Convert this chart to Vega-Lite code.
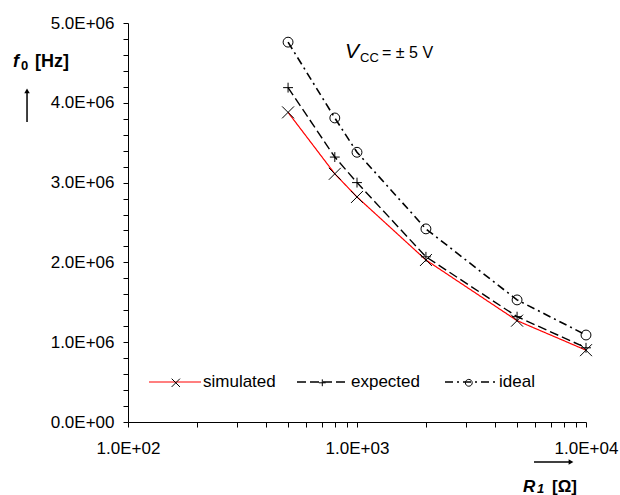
{
  "$schema": "https://vega.github.io/schema/vega-lite/v6.json",
  "width": 458,
  "height": 399,
  "autosize": {"type": "none"},
  "padding": {"left": 128, "top": 23, "right": 34, "bottom": 73},
  "config": {
    "view": {"stroke": null},
    "font": "Liberation Sans",
    "axis": {
      "labelFont": "Liberation Sans",
      "labelFontSize": 17,
      "labelColor": "black",
      "domainColor": "black",
      "domainWidth": 1,
      "tickColor": "black",
      "tickWidth": 1,
      "tickSize": 5,
      "grid": false,
      "labelOverlap": false,
      "labelFlush": false
    }
  },
  "datasets": {
    "curves": [
      {"R": 500, "f": 3880000, "series": "simulated"},
      {"R": 800, "f": 3110000, "series": "simulated"},
      {"R": 1000, "f": 2820000, "series": "simulated"},
      {"R": 2000, "f": 2030000, "series": "simulated"},
      {"R": 5000, "f": 1270000, "series": "simulated"},
      {"R": 10000, "f": 900000, "series": "simulated"},
      {"R": 500, "f": 4190000, "series": "expected"},
      {"R": 800, "f": 3320000, "series": "expected"},
      {"R": 1000, "f": 3000000, "series": "expected"},
      {"R": 2000, "f": 2070000, "series": "expected"},
      {"R": 5000, "f": 1320000, "series": "expected"},
      {"R": 10000, "f": 930000, "series": "expected"},
      {"R": 500, "f": 4760000, "series": "ideal"},
      {"R": 800, "f": 3810000, "series": "ideal"},
      {"R": 1000, "f": 3380000, "series": "ideal"},
      {"R": 2000, "f": 2420000, "series": "ideal"},
      {"R": 5000, "f": 1530000, "series": "ideal"},
      {"R": 10000, "f": 1090000, "series": "ideal"}
    ]
  },
  "layer": [
    {
      "data": {"name": "curves"},
      "mark": {"type": "line"},
      "encoding": {
        "x": {
          "field": "R", "type": "quantitative", "title": null,
          "scale": {"type": "log", "domain": [100, 10000], "nice": false},
          "axis": {
            "title": null,
            "labelOverlap": false,
            "tickCount": 100,
            "values": [100, 200, 300, 400, 500, 600, 700, 800, 900, 1000, 2000, 3000, 4000, 5000, 6000, 7000, 8000, 9000, 10000],
            "labelExpr": "(datum.value === 100 || datum.value === 1000 || datum.value === 10000) ? replace(format(datum.value, '.1e'), 'e+', 'E+0') : ''",
            "labelPadding": 13
          }
        },
        "y": {
          "field": "f", "type": "quantitative", "title": null,
          "scale": {"domain": [0, 5000000], "nice": false},
          "axis": {
            "title": null,
            "labelOverlap": false,
            "tickCount": 100,
            "values": [0, 200000, 400000, 600000, 800000, 1000000, 1200000, 1400000, 1600000, 1800000, 2000000, 2200000, 2400000, 2600000, 2800000, 3000000, 3200000, 3400000, 3600000, 3800000, 4000000, 4200000, 4400000, 4600000, 4800000, 5000000],
            "labelExpr": "datum.value % 1000000 === 0 ? replace(format(datum.value, '.1e'), 'e+', 'E+0') : ''",
            "labelPadding": 9
          }
        },
        "color": {
          "field": "series", "type": "nominal",
          "scale": {"domain": ["simulated", "expected", "ideal"], "range": ["#ff0000", "#000000", "#000000"]},
          "legend": {
            "title": null, "orient": "none", "legendX": 20, "legendY": 332, "direction": "horizontal",
            "padding": 0, "symbolType": "stroke", "symbolSize": 2704, "symbolStrokeWidth": 1.3,
            "labelFont": "Liberation Sans", "labelFontSize": 17, "labelColor": "black",
            "labelOffset": 1, "columnPadding": 17, "gridAlign": "all"
          }
        },
        "strokeDash": {
          "field": "series", "type": "nominal",
          "scale": {"domain": ["simulated", "expected", "ideal"], "range": [[1, 0], [9, 4], [8, 4, 2, 4]]},
          "legend": {
            "title": null, "orient": "none", "legendX": 20, "legendY": 332, "direction": "horizontal",
            "padding": 0, "symbolType": "stroke", "symbolSize": 2704, "symbolStrokeWidth": 1.3,
            "labelFont": "Liberation Sans", "labelFontSize": 17, "labelColor": "black",
            "labelOffset": 1, "columnPadding": 17, "gridAlign": "all"
          }
        },
        "strokeWidth": {
          "field": "series", "type": "nominal",
          "scale": {"domain": ["simulated", "expected", "ideal"], "range": [1.2, 1.6, 1.5]},
          "legend": null
        }
      }
    },
    {
      "data": {"name": "curves"},
      "mark": {"type": "point", "filled": false, "size": 2704, "color": "black", "strokeWidth": 1, "opacity": 1},
      "encoding": {
        "x": {"field": "R", "type": "quantitative"},
        "y": {"field": "f", "type": "quantitative"},
        "shape": {
          "field": "series", "type": "nominal",
          "sort": ["simulated", "expected", "ideal"],
          "scale": {"range": [
            "M-0.23,-0.23L0.23,0.23M-0.23,0.23L0.23,-0.23",
            "M-0.19,0L0.19,0M0,-0.19L0,0.19",
            "M0.19,0A0.19,0.19,0,1,1,-0.19,0A0.19,0.19,0,1,1,0.19,0Z"
          ]},
          "legend": {
            "title": null, "orient": "none", "legendX": 28.8, "legendY": 340.8, "direction": "horizontal",
            "padding": 0, "symbolSize": 1300, "symbolStrokeWidth": 1,
            "labelFont": "Liberation Sans", "labelFontSize": 17, "labelColor": "black",
            "labelExpr": "''",
            "labelOffset": 4, "columnPadding": 104.5, "gridAlign": "all"
          }
        }
      }
    },
    {
      "data": {"values": [{}]},
      "mark": {"type": "text", "text": "V", "font": "Liberation Sans", "fontSize": 21, "fontStyle": "italic", "align": "left", "baseline": "alphabetic", "color": "black"},
      "encoding": {"x": {"datum": 886.4, "type": "quantitative"}, "y": {"datum": 4561300, "type": "quantitative"}}
    },
    {
      "data": {"values": [{}]},
      "mark": {"type": "text", "text": "CC", "font": "Liberation Sans", "fontSize": 13, "align": "left", "baseline": "alphabetic", "color": "black"},
      "encoding": {"x": {"datum": 1030.6, "type": "quantitative"}, "y": {"datum": 4511300, "type": "quantitative"}}
    },
    {
      "data": {"values": [{}]},
      "mark": {"type": "text", "text": "= ± 5 V", "font": "Liberation Sans", "fontSize": 16, "align": "left", "baseline": "alphabetic", "color": "black"},
      "encoding": {"x": {"datum": 1286, "type": "quantitative"}, "y": {"datum": 4561300, "type": "quantitative"}}
    },
    {
      "data": {"values": [{}]},
      "mark": {"type": "text", "text": "f", "font": "Liberation Sans", "fontSize": 18, "fontWeight": "bold", "fontStyle": "italic", "align": "left", "baseline": "alphabetic", "color": "black"},
      "encoding": {"x": {"datum": 31.45, "type": "quantitative"}, "y": {"datum": 4448600, "type": "quantitative"}}
    },
    {
      "data": {"values": [{}]},
      "mark": {"type": "text", "text": "0", "font": "Liberation Sans", "fontSize": 13, "fontWeight": "bold", "align": "left", "baseline": "alphabetic", "color": "black"},
      "encoding": {"x": {"datum": 34.1, "type": "quantitative"}, "y": {"datum": 4417200, "type": "quantitative"}}
    },
    {
      "data": {"values": [{}]},
      "mark": {"type": "text", "text": "[Hz]", "font": "Liberation Sans", "fontSize": 18, "fontWeight": "bold", "align": "left", "baseline": "alphabetic", "color": "black"},
      "encoding": {"x": {"datum": 39.26, "type": "quantitative"}, "y": {"datum": 4448600, "type": "quantitative"}}
    },
    {
      "data": {"values": [{}]},
      "mark": {"type": "text", "text": "R", "font": "Liberation Sans", "fontSize": 17, "fontWeight": "bold", "fontStyle": "italic", "align": "left", "baseline": "alphabetic", "color": "black"},
      "encoding": {"x": {"datum": 5307, "type": "quantitative"}, "y": {"datum": -877200, "type": "quantitative"}}
    },
    {
      "data": {"values": [{}]},
      "mark": {"type": "text", "text": "1", "font": "Liberation Sans", "fontSize": 13, "fontWeight": "bold", "fontStyle": "italic", "align": "left", "baseline": "alphabetic", "color": "black"},
      "encoding": {"x": {"datum": 6109, "type": "quantitative"}, "y": {"datum": -889700, "type": "quantitative"}}
    },
    {
      "data": {"values": [{}]},
      "mark": {"type": "text", "text": "[Ω]", "font": "Liberation Sans", "fontSize": 17, "fontWeight": "bold", "align": "left", "baseline": "alphabetic", "color": "black"},
      "encoding": {"x": {"datum": 7103, "type": "quantitative"}, "y": {"datum": -877200, "type": "quantitative"}}
    },
    {
      "data": {"values": [{}]},
      "mark": {"type": "rule", "color": "black", "strokeWidth": 1.5},
      "encoding": {"x": {"datum": 36.23, "type": "quantitative"}, "y": {"datum": 3759000, "type": "quantitative"}, "y2": {"datum": 4140000}}
    },
    {
      "data": {"values": [{}]},
      "mark": {"type": "point", "shape": "triangle-up", "filled": true, "size": 30, "color": "black", "opacity": 1},
      "encoding": {"x": {"datum": 36.23, "type": "quantitative"}, "y": {"datum": 4148000, "type": "quantitative"}}
    },
    {
      "data": {"values": [{}]},
      "mark": {"type": "rule", "color": "black", "strokeWidth": 1.5},
      "encoding": {"x": {"datum": 5929, "type": "quantitative"}, "x2": {"datum": 8500}, "y": {"datum": -501300, "type": "quantitative"}}
    },
    {
      "data": {"values": [{}]},
      "mark": {"type": "point", "shape": "triangle-right", "filled": true, "size": 30, "color": "black", "opacity": 1},
      "encoding": {"x": {"datum": 8599, "type": "quantitative"}, "y": {"datum": -501300, "type": "quantitative"}}
    }
  ]
}
